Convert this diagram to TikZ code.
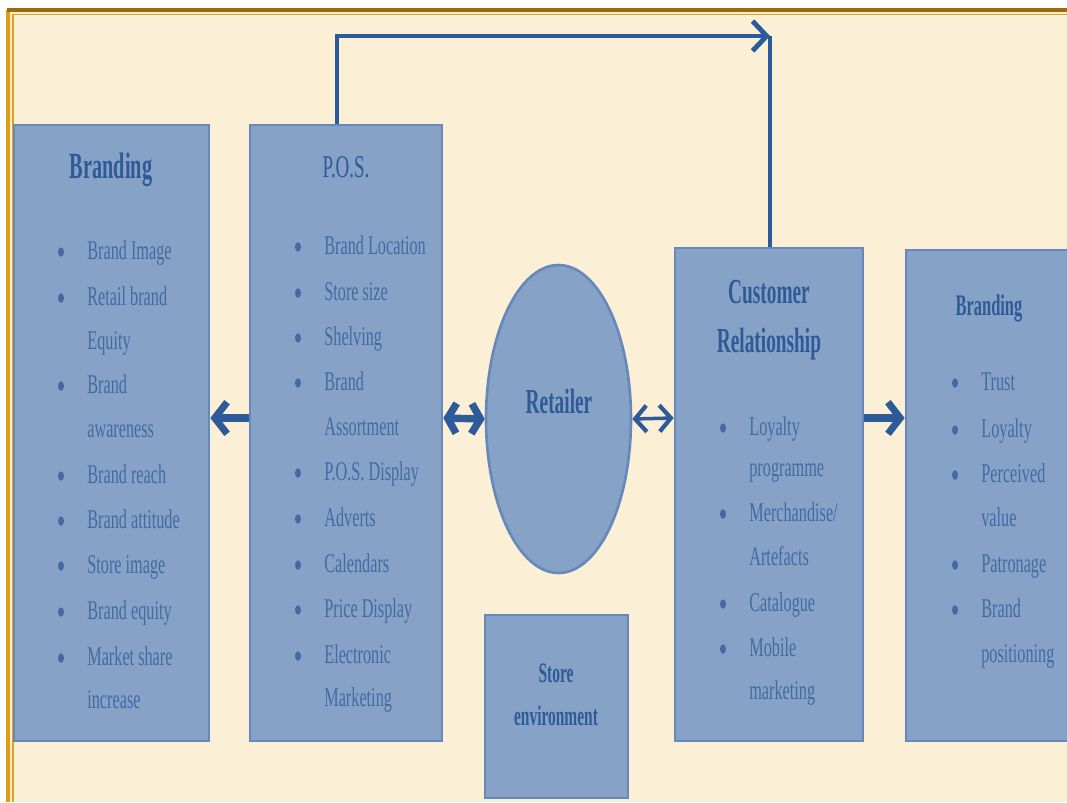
\documentclass[tikz,border=0pt]{standalone}
\usepackage{fontspec}
\setmainfont{Liberation Serif}[FakeStretch=0.6]
\newfontfamily\ttlfont{Liberation Serif}[FakeStretch=0.55]
\usepackage{xcolor}
\usetikzlibrary{arrows.meta,positioning,shapes.geometric,fit}

\definecolor{parch}{HTML}{FBF0D6}
\definecolor{goldd}{HTML}{A06A08}
\definecolor{goldo}{HTML}{E39B12}
\definecolor{goldl}{HTML}{DCA322}
\definecolor{boxfill}{HTML}{87A2C7}
\definecolor{boxline}{HTML}{6688BB}
\definecolor{itemc}{HTML}{4569A3}
\definecolor{ttlc}{HTML}{2F5A98}
\definecolor{arrowc}{HTML}{2D5A9B}

\tikzset{
  boxc/.style={draw=boxline,fill=boxfill,line width=1.5pt,inner sep=0pt},
  item/.style={anchor=base west,text=itemc,inner sep=0pt,font=\fontsize{15.4}{18}\selectfont},
  dot/.style={ellipse,fill=itemc,inner sep=0pt,minimum width=0.12cm,minimum height=0.19cm},
  ttl/.style={anchor=base,text=ttlc,inner sep=0pt},
  flow/.style={draw=arrowc,line width=#1},
  barb/.tip={Straight Barb[length=7pt,width=18pt]},
  dbarb/.tip={Straight Barb[length=5pt,width=17pt]},
  sbarb/.tip={Straight Barb[length=6.5pt,width=15pt,line width=2.4pt]},
}

\begin{document}
\begin{tikzpicture}[x=0.02cm,y=-0.02cm]
  \useasboundingbox (0,0) rectangle (1067,802);
  \clip (0,0) rectangle (1067,802);
  \fill[white] (0,0) rectangle (1067,802);
  \fill[parch] (8,10) rectangle (1067,802);
  \draw[goldo,line width=2.6pt] (8,802) -- (8,10);
  \draw[goldd,line width=2.6pt] (6.5,10) -- (1067,10);
  \draw[goldl,line width=0.8pt] (13,802) -- (13,14.5) -- (1067,14.5);

  % boxes
  \node[boxc,fit={(14,125) (209,741)}] (brandL) {};
  \node[boxc,fit={(250,125) (442,741)}] (pos) {};
  \node[boxc,ellipse,minimum width=2.9cm,minimum height=6.16cm] (ret) at (558.5,419) {};
  \node[boxc,fit={(485,615) (628,798)}] (env) {};
  \node[boxc,fit={(675,248) (863,741)}] (cr) {};
  \node[boxc,fit={(906,250) (1080,741)}] (brandR) {};

  % titles
  \node[ttl,font=\ttlfont\bfseries\fontsize{21}{24}\selectfont] (tBL) at (111,178) {Branding};
  \node[ttl,font=\fontsize{18}{20}\selectfont] (tPOS) at (346,177) {P.O.S.};
  \node[ttl,font=\ttlfont\bfseries\fontsize{20}{24}\selectfont] (tRet) at (559,413) {Retailer};
  \node[ttl,font=\ttlfont\bfseries\fontsize{20}{24}\selectfont] (tCR1) at (769,303) {Customer};
  \node[ttl,font=\ttlfont\bfseries\fontsize{20}{24}\selectfont] (tCR2) at (769,352) {Relationship};
  \node[ttl,font=\ttlfont\bfseries\fontsize{17}{20}\selectfont] (tBR) at (989,315) {Branding};
  \node[ttl,font=\ttlfont\bfseries\fontsize{16}{20}\selectfont] (tEnv1) at (556,682) {Store};
  \node[ttl,font=\ttlfont\bfseries\fontsize{16}{20}\selectfont] (tEnv2) at (556,725) {environment};

  % bullet lists
  \foreach \y/\t/\b in {250/Brand Image/1,296/Retail brand/1,340/Equity/0,384/Brand/1,428/awareness/0,474/Brand reach/1,519/Brand attitude/1,564/Store image/1,610/Brand equity/1,656/Market share/1,699/increase/0}{
    \node[item] (bl\y) at (87,{\y+9}) {\t};
    \ifnum\b=1 \node[dot] (blb\y) at (61,{\y+2}) {};\fi
  }
  \foreach \y/\t/\b in {245/Brand Location/1,291/Store size/1,336/Shelving/1,381/Brand/1,426/Assortment/0,471/P.O.S. Display/1,517/Adverts/1,563/Calendars/1,608/Price Display/1,654/Electronic/1,697/Marketing/0}{
    \node[item] (ps\y) at (324,{\y+9}) {\t};
    \ifnum\b=1 \node[dot] (psb\y) at (298,{\y+2}) {};\fi
  }
  \foreach \y/\t/\b in {426/Loyalty/1,467/programme/0,512/Merchandise\slash/1,556/Artefacts/0,602/Catalogue/1,647/Mobile/1,690/marketing/0}{
    \node[item] (cr\y) at (749,{\y+9}) {\t};
    \ifnum\b=1 \node[dot] (crb\y) at (723,{\y+2}) {};\fi
  }
  \foreach \y/\t/\b in {381/Trust/1,428/Loyalty/1,473/Perceived/1,517/value/0,563/Patronage/1,608/Brand/1,653/positioning/0}{
    \node[item] (br\y) at (981,{\y+9}) {\t};
    \ifnum\b=1 \node[dot] (brb\y) at (955,{\y+2}) {};\fi
  }

  % connectors
  \coordinate (mid) at (0,418);
  \coordinate (up1) at (337,36);
  \coordinate (up2) at (770,36);
  \draw[flow=4pt,-barb] (pos.west |- mid) -- (brandL.east |- mid);
  \draw[flow=4.2pt,dbarb-dbarb] (pos.east |- mid) -- (ret.west);
  \draw[flow=2pt,sbarb-sbarb] (ret.east) -- (cr.west |- mid);
  \draw[flow=4pt,-barb] (cr.east |- mid) -- (brandR.west |- mid);
  \draw[flow=2.4pt,-{Straight Barb[length=8pt,width=17pt,line width=2.8pt]}] (up1 |- pos.north) -- (up1) -- (up2);
  \draw[flow=2.4pt] (up2) -- (up2 |- cr.north);
\end{tikzpicture}
\end{document}
